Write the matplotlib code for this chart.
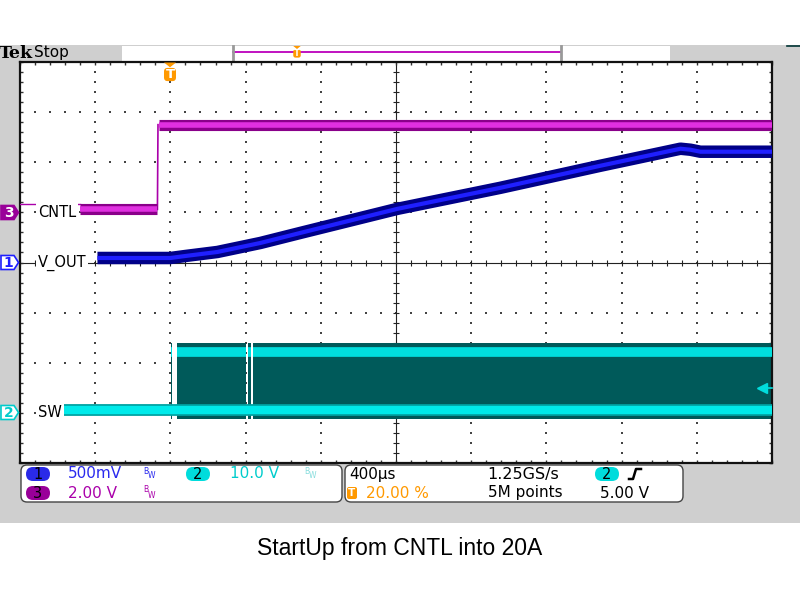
import numpy as np
import matplotlib.pyplot as plt
from matplotlib.patches import Rectangle, Polygon, FancyBboxPatch

# ---- scope settings ----
time_per_div = 400          # us/div
trig_pos = 0.20             # trigger at 20 % of record
ch1_scale, ch1_off = 0.5, 0.0     # V_OUT  500mV/div
ch2_scale, ch2_off = 10.0, -3.0   # SW     10.0V/div
ch3_scale, ch3_off = 2.0, 1.0     # CNTL   2.00V/div

# ---- traces (time in us from trigger, volts) ----
vout_t = [-388, 0, 80, 250, 479, 691, 1207, 1755, 2287, 2713, 2766, 2819, 3202]
vout_v = [0.045, 0.045, 0.065, 0.105, 0.195, 0.295, 0.535, 0.745, 0.965, 1.135, 1.125, 1.105, 1.105]

cntl_lead_t = [-798, -479]
cntl_lead_v = [0.35, 0.35]
cntl_low_t = [-479, -69]
cntl_low_v = [0.12, 0.12]
cntl_edge_t = [-69, -66]
cntl_edge_v = [0.12, 3.5]
cntl_high_t = [-60, 3202]
cntl_high_v = [3.5, 3.5]

sw_low_t = [-569, 3202]
sw_low_v = [0.5, 0.5]
sw_burst_start = [5, 37, 415, 441]
sw_burst_end = [11, 404, 431, 3202]
sw_high_v = 12.1
sw_env_top = 13.9
sw_env_bot = -1.3
sw_trig_level = 5.0

labels = {'CNTL': 212.5, 'V_OUT': 262.5, 'SW': 412.5}


def to_div(v, scale, off):
    return np.asarray(v, dtype=float) / scale + off


t0 = -trig_pos * 10 * time_per_div
t1 = t0 + 10 * time_per_div

fig = plt.figure(figsize=(8, 6), dpi=100)
fig.patch.set_facecolor('white')

# background / chrome in pixel coordinates
bg = fig.add_axes([0, 0, 1, 1], zorder=0)
bg.set_xlim(0, 800); bg.set_ylim(600, 0); bg.axis('off')
fg = fig.add_axes([0, 0, 1, 1], zorder=3)
fg.set_xlim(0, 800); fg.set_ylim(600, 0); fg.axis('off')

bg.add_patch(Rectangle((0, 45), 800, 478, fc='#cfcfcf', ec='none'))
bg.add_patch(Rectangle((122, 46), 548, 15, fc='white', ec='none'))
bg.plot([233, 561], [52, 52], color='#bb00bb', lw=1.3)
for xb in (233, 561):
    bg.plot([xb, xb], [46, 60], color='#999999', lw=2)
bg.text(-1, 54, 'Tek', fontsize=12.5, fontweight='bold', family='DejaVu Serif',
        va='center', ha='left')
bg.text(34, 53, 'Stop', fontsize=11, va='center', ha='left')
bg.plot([787, 800], [45.5, 45.5], color='#003333', lw=1.2)

# ---- graticule ----
ax = fig.add_axes([20 / 800, (600 - 463) / 600, 752 / 800, 401 / 600], zorder=1)
ax.set_xlim(t0, t1)
ax.set_ylim(-4, 4)
ax.set_facecolor('white')
for s in ax.spines.values():
    s.set_linewidth(1.6)
    s.set_color('#111111')
ax.set_xticks(np.arange(t0, t1 + 1, time_per_div))
ax.set_xticks(np.arange(t0, t1 + 1, time_per_div / 5), minor=True)
ax.set_yticks(np.arange(-4, 5, 1))
ax.set_yticks(np.arange(-4, 4.01, 0.2), minor=True)
ax.tick_params(which='both', direction='in', length=2.5, width=1, color='#333333',
               top=True, right=True, labelbottom=False, labelleft=False)

xc = t0 + 5 * time_per_div
dot_y = np.arange(-4, 4.01, 0.2)
dot_x = np.arange(t0, t1 + 1, time_per_div / 5)
for k in range(1, 10):
    if k == 5:
        continue
    gx = t0 + k * time_per_div
    ax.scatter(np.full(dot_y.size, gx), dot_y, s=0.9, marker='s', color='#444444',
               lw=0, zorder=1)
for gy in (-3, -2, -1, 1, 2, 3):
    ax.scatter(dot_x, np.full(dot_x.size, gy), s=0.9, marker='s', color='#444444',
               lw=0, zorder=1)
ax.axvline(xc, color='#222222', lw=0.8, zorder=1)
ax.axhline(0, color='#222222', lw=0.8, zorder=1)
ax.plot(np.full(dot_y.size, xc), dot_y, ls='none', marker='_', ms=4, mew=0.8,
        color='#222222', zorder=1)
ax.plot(dot_x, np.zeros(dot_x.size), ls='none', marker='|', ms=4, mew=0.8,
        color='#222222', zorder=1)

# ---- SW (ch2) ----
for a, b in zip(sw_burst_start, sw_burst_end):
    ax.fill_between([a, b], to_div(sw_env_bot, ch2_scale, ch2_off),
                    to_div(sw_env_top, ch2_scale, ch2_off), color='#005a5a', lw=0, zorder=2)
    ax.plot([a, b], to_div([sw_high_v, sw_high_v], ch2_scale, ch2_off),
            color='#00dede', lw=7, solid_capstyle='butt', zorder=3)
ax.plot(sw_low_t, to_div(sw_low_v, ch2_scale, ch2_off), color='#00a0a0', lw=8.5,
        solid_capstyle='butt', zorder=3)
ax.plot(sw_low_t, to_div(sw_low_v, ch2_scale, ch2_off), color='#00eaea', lw=6,
        solid_capstyle='butt', zorder=3)

# ---- CNTL (ch3) ----
ax.plot(cntl_lead_t, to_div(cntl_lead_v, ch3_scale, ch3_off), color='#aa00aa', lw=1, zorder=4)
ax.plot(cntl_edge_t, to_div(cntl_edge_v, ch3_scale, ch3_off), color='#aa00aa', lw=1.2, zorder=4)
for tt, vv in ((cntl_low_t, cntl_low_v), (cntl_high_t, cntl_high_v)):
    ax.plot(tt, to_div(vv, ch3_scale, ch3_off), color='#8a008a', lw=8,
            solid_capstyle='butt', zorder=4)
    ax.plot(tt, to_div(vv, ch3_scale, ch3_off), color='#e030e0', lw=4,
            solid_capstyle='butt', zorder=4)

# ---- V_OUT (ch1) ----
ax.plot(vout_t, to_div(vout_v, ch1_scale, ch1_off), color='#000088', lw=9,
        solid_capstyle='butt', zorder=5)
ax.plot(vout_t, to_div(vout_v, ch1_scale, ch1_off), color='#1f1fff', lw=3,
        solid_capstyle='butt', zorder=5)

# trigger level arrow (ch2)
ty = to_div(sw_trig_level, ch2_scale, ch2_off)
ax.plot([t1 - 30, t1], [ty, ty], color='#00dddd', lw=1.2, clip_on=False, zorder=6)
ax.plot([t1 - 55], [ty], marker='<', ms=7, color='#00dddd', zorder=6)

# ---- labels on graticule ----
for name, yp in labels.items():
    fg.text(38, yp, name, fontsize=10.5, va='center', ha='left', color='black',
            bbox=dict(boxstyle='square,pad=0.12', fc='white', ec='none'))

# trigger position markers
for xm, ym, sz in ((170, 62.5, 1.2), (297, 46, 0.75)):
    fg.add_patch(Polygon([[xm - 5 * sz, ym], [xm + 5 * sz, ym], [xm, ym + 4 * sz]],
                         closed=True, fc='#ff9900', ec='none'))
    fg.add_patch(FancyBboxPatch((xm - 5 * sz, ym + 4.5 * sz), 10 * sz, 11 * sz,
                                boxstyle='round,pad=0,rounding_size=%g' % (3 * sz),
                                fc='#ff9900', ec='none'))
    fg.text(xm, ym + 10 * sz, 'T', fontsize=8 * sz, fontweight='bold', color='white',
            ha='center', va='center')

# channel ground markers
markers = [('3', 212.5, '#990099', 'white', '#990099'),
           ('1', 262.5, 'white', '#1f1fff', '#1f1fff'),
           ('2', 412.5, 'white', '#00cccc', '#00cccc')]
for num, ym, fc, tc, ec in markers:
    fg.add_patch(Polygon([[1, ym - 7], [14, ym - 7], [18.5, ym], [14, ym + 7], [1, ym + 7]],
                         closed=True, fc=fc, ec=ec, lw=1.2))
    fg.text(8.5, ym + 0.5, num, fontsize=10, color=tc, ha='center', va='center',
            fontweight='bold')

# ---- readout boxes ----
for x0, x1 in ((21, 342), (345, 683)):
    bg.add_patch(FancyBboxPatch((x0, 465), x1 - x0, 37,
                                boxstyle='round,pad=0,rounding_size=6',
                                fc='white', ec='#444444', lw=1))


def badge(x, y, num, color):
    bg.add_patch(FancyBboxPatch((x - 12, y - 7), 24, 14,
                                boxstyle='round,pad=0,rounding_size=7',
                                fc=color, ec='none'))
    bg.text(x, y + 0.5, num, fontsize=10.5, ha='center', va='center', color='black')


def bw(x, y, color):
    bg.text(x, y - 3, 'B', fontsize=5.5, color=color, ha='left', va='center')
    bg.text(x + 4.5, y + 2, 'W', fontsize=5.5, color=color, ha='left', va='center')


fs = 11
badge(38, 474, '1', '#2a2ae8')
bg.text(68, 474, '500mV', fontsize=fs, color='#2a2aee', va='center')
bw(143, 474, '#2a2aee')
badge(198, 474, '2', '#00dcdc')
bg.text(230, 474, '10.0 V', fontsize=fs, color='#00cccc', va='center')
bw(304, 474, '#88dddd')
badge(38, 493, '3', '#990099')
bg.text(68, 493, '2.00 V', fontsize=fs, color='#aa00aa', va='center')
bw(143, 493, '#aa00aa')

bg.text(349, 474, '400µs', fontsize=fs, color='black', va='center')
bg.text(487, 474, '1.25GS/s', fontsize=11.5, color='black', va='center')
badge(607, 474, '2', '#00dcdc')
bg.plot([629, 633, 636, 641], [479, 479, 469, 469], color='black', lw=1.8)
bg.add_patch(FancyBboxPatch((347, 487), 10, 12, boxstyle='round,pad=0,rounding_size=2',
                            fc='#ff9900', ec='none'))
bg.text(352, 493, 'T', fontsize=7.5, fontweight='bold', color='white', ha='center', va='center')
bg.text(366, 493, '20.00 %', fontsize=fs, color='#ff9900', va='center')
bg.text(488, 493, '5M points', fontsize=fs, color='black', va='center')
bg.text(600, 493, '5.00 V', fontsize=fs, color='black', va='center')

# caption
bg.text(400, 548, 'StartUp from CNTL into 20A', fontsize=16.5, family='Liberation Sans',
        ha='center', va='center', color='black')

fig.savefig('out.png', dpi=100)
